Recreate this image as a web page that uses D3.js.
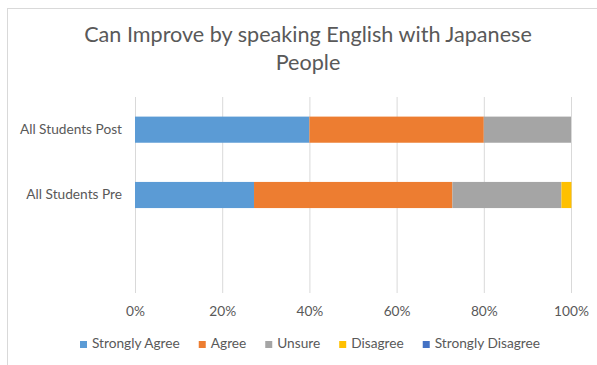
<!DOCTYPE html>
<html>
<head>
<meta charset="utf-8">
<script src="https://cdn.jsdelivr.net/npm/d3@7"></script>
<style>
  body { margin: 0; background: #fff; }
  text { font-family: Lato, "Open Sans", sans-serif; }
</style>
</head>
<body>
<div id="chart"></div>
<script>
// categories top to bottom (the last one is an empty slot, like the source chart)
const categories = ['All Students Post', 'All Students Pre', ''];
const seriesNames = ['Strongly Agree', 'Agree', 'Unsure', 'Disagree', 'Strongly Disagree'];
const seriesColors = ['#5B9BD5', '#ED7D31', '#A5A5A5', '#FFC000', '#4472C4'];
// percent per category, in series order
const postValues = [40, 40, 20, 0, 0];
const preValues = [27.3, 45.5, 25.0, 2.3, 0];
const tickValues = [0, 20, 40, 60, 80, 100];
const titleLines = ['Can Improve by speaking English with Japanese', 'People'];

const width = 597;
const height = 365;
const margin = { top: 97, right: 26, bottom: 72, left: 135 };
const labelSize = 13.7;

const svg = d3.select('#chart').append('svg').attr('width', width).attr('height', height);

// chart border
svg.append('rect')
  .attr('x', 7.5).attr('y', 8.5)
  .attr('width', width).attr('height', height)
  .attr('fill', 'none').attr('stroke', '#d9d9d9');

// title
svg.append('g').selectAll('text')
  .data(titleLines)
  .enter()
  .append('text')
  .attr('x', 308)
  .attr('y', (d, i) => 42 + i * 28)
  .attr('text-anchor', 'middle')
  .attr('font-size', 21.6)
  .attr('fill', '#595959')
  .text(d => d);

const x = d3.scaleLinear().domain([0, 100]).range([margin.left, width - margin.right]);
const y = d3.scaleBand().domain(categories).range([margin.top, height - margin.bottom]).paddingInner(0.6).paddingOuter(0.3);

// gridlines
svg.append('g').selectAll('line')
  .data(tickValues)
  .enter()
  .append('line')
  .attr('x1', d => x(d) + 0.5).attr('x2', d => x(d) + 0.5)
  .attr('y1', margin.top).attr('y2', height - margin.bottom)
  .attr('stroke', '#d9d9d9');

// x axis labels
const xAxis = svg.append('g')
  .attr('transform', `translate(0,${height - margin.bottom})`)
  .call(d3.axisBottom(x).tickValues(tickValues).tickFormat(d => d + '%').tickSize(0).tickPadding(13));
xAxis.select('.domain').remove();
xAxis.selectAll('text').attr('font-size', labelSize).attr('fill', '#595959').style('font-family', 'Lato, sans-serif');

// y axis labels
const yAxis = svg.append('g')
  .attr('transform', `translate(${margin.left},0)`)
  .call(d3.axisLeft(y).tickSize(0).tickPadding(13));
yAxis.select('.domain').remove();
yAxis.selectAll('text').attr('font-size', labelSize).attr('fill', '#595959').style('font-family', 'Lato, sans-serif');

// stacked bars
const rows = [
  { cat: categories[0], vals: postValues },
  { cat: categories[1], vals: preValues },
];
const tableRows = rows.map(r => {
  const o = { cat: r.cat };
  seriesNames.forEach((s, i) => (o[s] = r.vals[i]));
  return o;
});
const stacked = d3.stack().keys(seriesNames)(tableRows);

svg.append('g').selectAll('g')
  .data(stacked)
  .enter()
  .append('g')
  .attr('fill', (d, i) => seriesColors[i])
  .selectAll('rect')
  .data(d => d)
  .enter()
  .append('rect')
  .attr('x', d => x(d[0]))
  .attr('width', d => x(d[1]) - x(d[0]))
  .attr('y', d => y(d.data.cat))
  .attr('height', y.bandwidth());

// legend
const legend = svg.append('g').attr('transform', 'translate(0,344)');
const items = legend.selectAll('g')
  .data(seriesNames)
  .enter()
  .append('g');
items.append('rect')
  .attr('width', 7).attr('height', 7)
  .attr('y', -3)
  .attr('fill', (d, i) => seriesColors[i]);
items.append('text')
  .attr('x', 12)
  .attr('y', 4)
  .attr('font-size', labelSize)
  .attr('fill', '#595959')
  .text(d => d);

const widths = [];
items.each(function () {
  widths.push(this.getBBox().width);
});
// legend spans about x=80..540 in the source
const legendStart = 80;
const legendEnd = 540;
const gap = (legendEnd - legendStart - d3.sum(widths)) / (widths.length - 1);
let pos = legendStart;
items.attr('transform', (d, i) => {
  const t = `translate(${pos},0)`;
  pos += widths[i] + gap;
  return t;
});
</script>
</body>
</html>
